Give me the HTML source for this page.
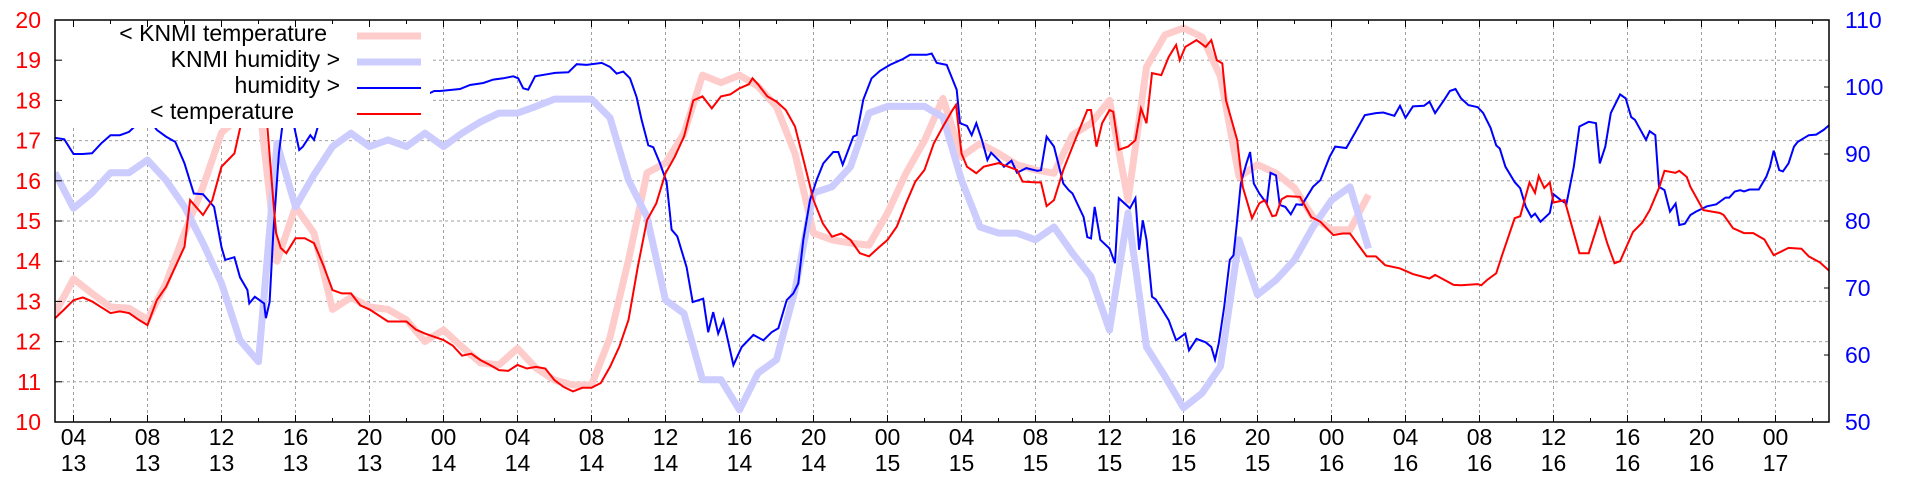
<!DOCTYPE html>
<html><head><meta charset="utf-8"><style>
html,body{margin:0;padding:0;background:#fff;}
svg{display:block;font-family:"Liberation Sans",sans-serif;}
</style></head><body>
<svg id="chart" width="1920" height="480" viewBox="0 0 1920 480" xmlns="http://www.w3.org/2000/svg">
<defs><clipPath id="plotclip"><rect x="55" y="20" width="1774" height="402"/></clipPath></defs>
<g id="grid"></g>
<g id="series" clip-path="url(#plotclip)"></g>
<g id="legend"></g>
<g id="axes"></g>
</svg>
<script>
// ---- data ----
const knmiHours = [3,4,5,6,7,8,9,10,11,12,13,14,15,16,17,18,19,20,21,22,23,24,25,26,27,28,29,30,31,32,33,34,35,36,37,38,39,40,41,42,43,44,45,46,47,48,49,50,51,52,53,54,55,56,57,58,59,60,61,62,63,64,65,66,67,68,69,70,71,72,73,74];
const knmiTemp = [12.71,13.56,13.2,12.86,12.83,12.55,13.45,14.7,15.85,17.2,17.6,18.1,14.0,15.35,14.7,12.8,13.1,12.86,12.8,12.54,12.0,12.29,11.87,11.47,11.42,11.83,11.34,11.04,10.92,10.92,12.1,14.03,16.2,16.44,17.18,18.63,18.44,18.63,18.35,17.84,16.68,14.7,14.53,14.45,14.4,15.2,16.19,17.0,18.05,16.6,16.93,16.68,16.4,16.27,16.19,17.14,17.43,18.0,15.52,18.83,19.63,19.8,19.58,18.59,16.1,16.4,16.19,15.82,15.1,14.78,14.78,15.65];
const knmiHum = [87.2,81.9,84.2,87.2,87.2,89.1,86.1,82.1,76.7,70.7,62.2,59.0,91.6,82.1,86.9,91.1,93.1,91.1,92.1,91.1,93.1,91.1,93.1,94.8,96.1,96.1,97.1,98.2,98.2,98.2,95.4,86.1,80.6,68.2,66.2,56.3,56.3,51.8,57.3,59.3,69.7,84.2,85.1,88.1,96.1,97.1,97.1,97.1,95.5,86.1,79.1,78.2,78.2,77.2,79.1,75.2,71.7,63.7,81.2,61.2,56.8,52.1,54.3,58.3,77.2,69.0,71.2,74.2,79.1,83.1,85.1,75.9];
const tempHours = [3,3.5,4,4.5,5,6,6.5,7,7.5,8,8.5,9,9.5,10,10.3,11,11.5,12,12.7,13,13.5,14,14.4,14.8,14.95,15.2,15.5,16,16.5,17,17.5,18,18.5,19,19.5,20,21,22,22.5,23,24,24.5,25,25.5,26,26.5,27,27.5,28,28.5,29,29.5,30,30.5,31,31.5,32,32.5,33,33.5,34,34.5,35,35.5,36,36.5,37,37.5,38,38.5,39,39.5,40,40.5,40.7,41,41.5,42,42.5,43,43.5,44,44.5,45,45.5,46,46.5,47,47.5,48,48.5,49,49.5,50,50.5,51,51.5,51.7,52,52.3,52.8,53.2,54,55,55.3,56,56.3,56.6,57,57.5,58,58.8,59,59.3,59.6,60,60.2,60.5,61,61.4,61.7,62,62.3,62.8,63.2,63.6,63.8,64.1,64.7,65.2,65.5,65.8,66.1,66.3,66.6,66.9,67.2,67.7,68.1,68.4,68.8,69,69.3,69.6,70.3,70.9,71.4,72.1,72.6,73,73.9,74.4,74.9,75.7,76.4,77.3,77.6,78.6,79,79.9,80.1,80.4,80.9,81.2,81.9,82.2,82.7,83,83.2,83.5,83.8,84,84.6,84.9,85.4,85.9,86.5,86.9,87.3,87.6,88.3,88.8,89.2,89.7,90,90.6,90.8,91.2,91.4,92.1,93,93.2,93.7,94.3,94.8,95.4,95.9,96.7,97.4,97.8,98.4,98.9];
const tempValues = [12.58,12.8,13.03,13.1,13.0,12.71,12.75,12.71,12.55,12.41,13.03,13.36,13.86,14.36,15.52,15.15,15.52,16.35,16.68,17.3,17.9,18.4,17.8,15.5,14.7,14.33,14.2,14.57,14.57,14.45,13.9,13.28,13.2,13.2,12.9,12.8,12.5,12.5,12.3,12.2,12.04,11.9,11.65,11.7,11.54,11.42,11.29,11.27,11.42,11.33,11.37,11.33,11.04,10.87,10.76,10.85,10.85,10.97,11.37,11.87,12.54,13.86,15.02,15.44,16.19,16.6,17.1,18.0,18.1,17.8,18.1,18.15,18.3,18.4,18.55,18.4,18.1,17.97,17.76,17.35,16.44,15.52,14.94,14.61,14.69,14.53,14.2,14.12,14.33,14.53,14.86,15.44,15.98,16.27,16.93,17.35,17.75,17.89,16.68,16.35,16.19,16.35,16.44,16.27,15.98,15.96,15.96,15.37,15.52,16.27,16.85,17.76,17.76,16.85,17.43,17.76,17.72,16.77,16.85,17.01,17.8,17.43,18.68,18.63,19.08,19.38,19.0,19.33,19.5,19.33,19.5,19.0,18.92,18.0,17.51,17.01,15.85,15.07,15.44,15.52,15.12,15.14,15.54,15.62,15.6,15.1,14.98,14.65,14.69,14.69,14.12,14.12,13.9,13.82,13.68,13.57,13.66,13.41,13.4,13.43,13.4,13.53,13.7,14.12,15.07,15.12,15.96,15.7,16.12,15.82,15.96,15.46,15.52,15.02,14.2,14.2,15.07,14.45,13.95,14.0,14.73,14.96,15.27,15.82,16.25,16.2,16.25,16.1,15.85,15.27,15.2,15.15,14.82,14.7,14.7,14.54,14.15,14.33,14.31,14.12,13.97,13.76];
const humHours = [3,3.5,4,4.5,5,5.5,6,6.5,7,7.5,8,8.5,9,9.5,10,10.5,11,11.6,12,12.2,12.7,13,13.4,13.5,13.8,14.3,14.4,14.6,14.8,15.1,15.3,15.9,16.2,16.4,16.8,17,17.2,18,20,22,23.5,23.81,24.89,25.43,26.15,26.69,27.23,27.77,28.04,28.31,28.58,28.95,29.58,30.03,30.75,31.2,31.74,32.55,33.0,33.36,33.72,34.08,34.44,34.71,35.07,35.34,35.7,36.06,36.33,36.64,37.14,37.47,38.04,38.31,38.58,38.85,39.13,39.67,40.12,40.75,41.29,41.74,42.1,42.55,42.91,43.18,43.45,43.81,44.17,44.53,45.07,45.34,45.58,46.15,46.33,46.69,47.14,47.59,48.13,48.85,49.22,50.12,50.39,50.66,51.2,51.74,51.92,52.1,52.3,52.55,52.8,53.1,53.4,53.6,54,54.3,54.7,55,55.5,56.1,56.3,56.6,57,57.5,57.8,58,58.6,58.8,59,59.2,59.5,60,60.3,60.5,61.1,61.4,61.6,61.8,62,62.3,62.5,63.2,63.6,64.1,64.3,64.7,65.2,65.5,65.7,65.9,66.2,66.5,66.7,66.9,67.1,67.4,67.6,67.8,68.1,68.5,68.7,69,69.2,69.5,69.8,70.1,70.4,71,71.4,71.9,72.2,72.8,73.3,73.8,74.4,74.8,75.4,75.7,76,76.4,77,77.3,77.6,78.1,78.4,78.7,79,79.4,79.9,80.2,80.6,80.9,81.1,81.4,81.9,82.2,82.5,82.8,83,83.3,83.8,84,84.4,84.7,85.1,85.4,85.9,86.3,86.5,86.8,87.1,87.6,87.9,88.2,88.4,89,89.2,89.5,89.7,90,90.3,90.6,90.8,91.1,91.4,91.7,92.3,92.8,93.3,93.5,93.8,94.1,94.3,94.6,95.1,95.5,95.7,95.9,96.2,96.4,96.7,97,97.2,97.8,98.2,98.6,98.9];
const humValues = [92.4,92.2,90.0,90.0,90.1,91.6,92.8,92.8,93.3,94.6,95.5,93.6,92.6,91.8,88.6,84.1,84.0,82.1,76.1,74.2,74.6,71.6,69.7,67.7,68.7,67.7,65.5,67.9,78.2,90.1,94.5,94.5,90.6,91.1,92.8,92.1,94.0,95,96,97.5,99.4,99.4,99.7,100.3,100.6,101.1,101.3,101.6,101.3,99.8,99.6,101.6,101.9,102.1,102.2,103.4,103.3,103.6,103.0,102.0,102.3,101.3,98.5,95.1,91.3,91.0,88.6,85.8,78.7,77.7,73.1,67.9,68.4,63.4,66.4,63.2,65.2,58.5,61.2,63.0,62.2,63.4,64.0,68.2,69.2,70.7,77.2,83.1,86.1,88.6,90.3,90.3,88.4,92.6,92.8,98.1,101.3,102.4,103.3,104.2,104.8,104.8,105.0,103.6,103.3,99.6,94.6,94.4,94.2,92.8,94.6,92.1,89.1,90.2,89.1,88.1,89.0,87.2,87.9,87.5,87.6,92.6,91.1,85.6,84.6,84.1,80.6,77.6,77.4,82.1,77.2,75.9,73.7,83.4,81.9,83.4,75.7,80.1,77.2,68.7,68.3,65.2,62.2,63.2,60.7,62.4,61.9,61.2,59.3,61.7,67.2,74.2,74.9,80.1,85.6,88.6,90.3,85.6,84.1,82.6,87.2,86.8,82.4,82.1,81.0,82.5,82.4,85.1,86.1,89.6,91.1,90.9,93.3,95.8,96.1,96.2,95.7,97.2,95.4,97.1,97.2,97.8,96.1,98.1,99.4,99.7,98.3,97.3,97.0,96.1,93.9,91.3,90.8,88.1,85.8,84.9,82.1,80.6,81.1,79.9,81.2,84.0,83.1,82.6,88.1,94.1,94.8,94.6,88.6,91.1,96.1,98.9,98.3,95.5,95.1,92.1,93.4,92.8,85.1,84.6,81.4,82.6,79.4,79.6,80.9,81.4,82.2,82.5,83.5,83.5,84.4,84.6,84.4,84.7,84.7,86.6,88.1,90.5,87.6,87.4,88.6,91.1,91.8,92.8,92.9,93.6,94.3];
const tempTicks = [10,11,12,13,14,15,16,17,18,19,20];
const humTicks = [50,60,70,80,90,100,110];
const xTickHours = [4,8,12,16,20,24,28,32,36,40,44,48,52,56,60,64,68,72,76,80,84,88,92,96];
const xTickHourLabels = ["04","08","12","16","20","00","04","08","12","16","20","00","04","08","12","16","20","00","04","08","12","16","20","00"];
const xTickDayLabels = ["13","13","13","13","13","14","14","14","14","14","14","15","15","15","15","15","15","16","16","16","16","16","16","17"];
const legendLabels = ["< KNMI temperature","KNMI humidity >","humidity >","< temperature"];

// ---- scales ----
const L=55,R=1829,T=20,B=422,H0=3;
const xs = h => L + (h-H0)*18.5;
const yT = v => B - (v-10)*(B-T)/10;
const yH = v => B - (v-50)*(B-T)/60;
const NS="http://www.w3.org/2000/svg";
function mk(tag, attrs, parent){const e=document.createElementNS(NS,tag);for(const k in attrs)e.setAttribute(k,attrs[k]);parent.appendChild(e);return e;}
const grid=document.getElementById('grid'), series=document.getElementById('series'), legend=document.getElementById('legend'), axes=document.getElementById('axes');

// grid
tempTicks.forEach(v=>{ if(v>10&&v<20){const g=mk('line',{x1:L,x2:R,y1:yT(v),y2:yT(v),stroke:'#a0a0a0','stroke-width':1,'stroke-dasharray':'3,3'},grid);

}});
xTickHours.forEach(h=>{const g=mk('line',{x1:xs(h),x2:xs(h),y1:T,y2:B,stroke:'#a0a0a0','stroke-width':1,'stroke-dasharray':'3,3'},grid);

});

// series
function pathFrom(hs, vs, yf){return hs.map((h,i)=>(i?'L':'M')+xs(h).toFixed(1)+','+yf(vs[i]).toFixed(1)).join(' ');}
let p=mk('path',{d:pathFrom(knmiHours,knmiTemp,yT),fill:'none',stroke:'#ffcccc','stroke-width':7,'stroke-linejoin':'round'},series);


p=mk('path',{d:pathFrom(knmiHours,knmiHum,yH),fill:'none',stroke:'#ccccff','stroke-width':7,'stroke-linejoin':'round'},series);


p=mk('path',{d:pathFrom(humHours,humValues,yH),fill:'none',stroke:'#0000ff','stroke-width':2},series);


p=mk('path',{d:pathFrom(tempHours,tempValues,yT),fill:'none',stroke:'#ff0000','stroke-width':2},series);



// legend
const lb=mk('rect',{x:56,y:21,width:374,height:107,fill:'#fff'},legend);


const legEnd=[327,340,340,294], legY=[33,59,85,111], legCol=['#ffcccc','#ccccff','#0000ff','#ff0000'], legW=[7,7,2,2];
legendLabels.forEach((t,i)=>{
 const tx=mk('text',{x:legEnd[i],y:legY[i]+8,'text-anchor':'end','font-size':23,fill:'#000'},legend);tx.textContent=t;
 
 
 const ln=mk('line',{x1:357,x2:421,y1:legY[i]+3,y2:legY[i]+3,stroke:legCol[i],'stroke-width':legW[i]},legend);
 
 
});

// axes frame
const fr=mk('rect',{x:L,y:T,width:R-L,height:B-T,fill:'none',stroke:'#000','stroke-width':1.5},axes);


tempTicks.forEach(v=>{
 const tk=mk('line',{x1:L,x2:L+7,y1:yT(v),y2:yT(v),stroke:'#000','stroke-width':1},axes);
 
 
 const t=mk('text',{x:41,y:yT(v)+8,'text-anchor':'end','font-size':23,fill:'#ff0000'},axes);t.textContent=v;
 
 
});
humTicks.forEach(v=>{
 const tk=mk('line',{x1:R-5,x2:R,y1:yH(v),y2:yH(v),stroke:'#000','stroke-width':1},axes);
 
 
 const t=mk('text',{x:1845,y:yH(v)+8,'text-anchor':'start','font-size':23,fill:'#0000ff'},axes);t.textContent=v;
 
 
});
for(let h=4;h<=98;h+=2){
 const len=(h%4===0)?7:4;
 let tk=mk('line',{x1:xs(h),x2:xs(h),y1:B,y2:B-len,stroke:'#000','stroke-width':1},axes);
 
 
 tk=mk('line',{x1:xs(h),x2:xs(h),y1:T,y2:T+len,stroke:'#000','stroke-width':1},axes);
 
 
}
xTickHours.forEach((h,i)=>{
 const a=mk('text',{x:xs(h),y:445,'text-anchor':'middle','font-size':23,fill:'#000'},axes);a.textContent=xTickHourLabels[i];
 
 
 const b=mk('text',{x:xs(h),y:471,'text-anchor':'middle','font-size':23,fill:'#000'},axes);b.textContent=xTickDayLabels[i];
 
 
});
</script>
</body></html>
